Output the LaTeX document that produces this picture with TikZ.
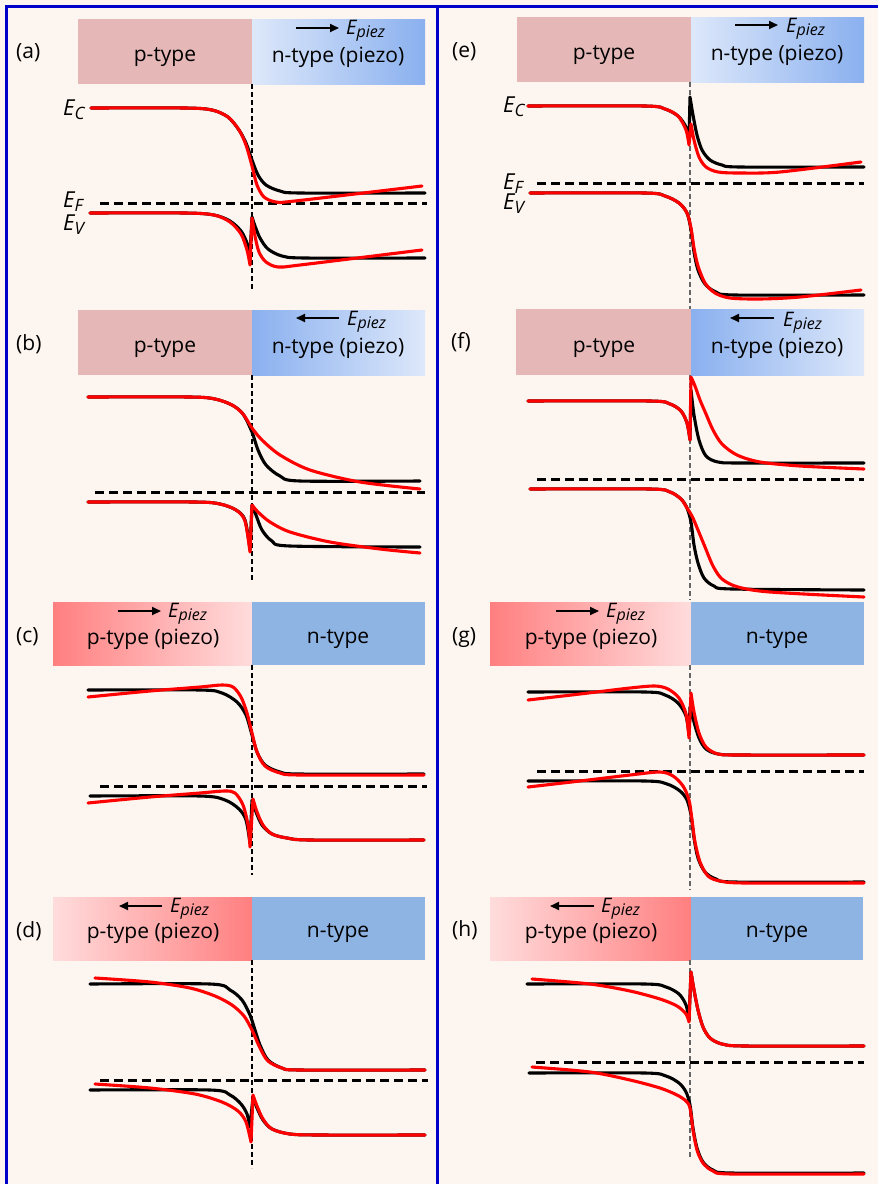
\documentclass[tikz,border=0pt]{standalone}
\usepackage{fontspec}
\setmainfont{Open Sans}
\usetikzlibrary{arrows.meta}
\definecolor{bg}{HTML}{FDF5EF}
\definecolor{pbox}{HTML}{E5B8B7}
\definecolor{nbox}{HTML}{8EB4E3}
\definecolor{bluelt}{HTML}{DDE8FA}
\definecolor{bluedk}{HTML}{8AB0EF}
\definecolor{redlt}{HTML}{FFDCDC}
\definecolor{reddk}{HTML}{FF7F80}
\definecolor{framec}{HTML}{0000CC}
\definecolor{bandred}{HTML}{FF0000}
\definecolor{jgrey}{HTML}{666666}
\newcommand{\Epz}{{\fontsize{20}{20}\selectfont\itshape E}\raisebox{-3pt}{\fontsize{16}{16}\selectfont\itshape piez}}
\newcommand{\Eband}[1]{{\fontsize{22}{22}\selectfont\itshape E}\raisebox{-4pt}{\fontsize{17}{17}\selectfont\itshape #1}}
\begin{document}
\begin{tikzpicture}[x=1pt,y=-1pt,
  blk/.style={line width=3.1pt,black,line join=round,line cap=round},
  rd/.style={line width=3.1pt,bandred,line join=round,line cap=round},
  fermi/.style={line width=3pt,black,dash pattern=on 9pt off 5pt},
  junc/.style={line width=1.6pt,black,dash pattern=on 5pt off 3pt},
  juncg/.style={line width=1.6pt,jgrey,dash pattern=on 5pt off 3pt},
  boxtxt/.style={anchor=base,inner sep=0pt,font=\fontsize{21}{22}\selectfont},
  lbl/.style={anchor=base west,inner sep=0pt,font=\fontsize{21}{22}\selectfont},
  etxt/.style={anchor=base west,inner sep=0pt},
  arr/.style={line width=2pt,-{Triangle[length=9pt,width=8pt]}},
  framel/.style={line width=3pt,framec}]
\useasboundingbox (0,0) rectangle (878,1184);
\fill[bg] (0,0) rectangle (878,1184);
% ---------- frame
\draw[framel] (6.5,1184) -- (6.5,6) -- (878,6);
\draw[framel] (437,6) -- (437,1184);

% ================= (a)
\fill[pbox] (78,19) rectangle (252,84);
\shade[left color=bluelt,right color=bluedk] (252,19) rectangle (425,84);
\node[lbl] (la) at (16,58) {(a)};
\node[boxtxt] (ap) at (165,61) {p-type};
\node[boxtxt] (an) at (338,62) {n-type (piezo)};
\coordinate (aa1) at (296,28); \coordinate (aa2) at (339,28);
\draw[arr] (aa1) -- (aa2);
\node[etxt] (ae) at (346,34) {\Epz};
\draw[junc] (252,84) -- (252,290);
\draw[fermi] (100,203) -- (427,203);
\draw[blk] plot[smooth] coordinates {(91,108) (185,108) (212,110) (228,117) (239,130) (246,143) (252,160) (258,175) (266,185) (280,191) (300,193) (425,193)};
\draw[blk] plot[smooth] coordinates {(90,213) (185,213) (214,215) (230,221) (241,231) (247,243) (250,255)} -- plot[smooth] coordinates {(252,217) (255,226) (260,238) (268,249) (282,256) (305,258) (425,258)};
\draw[rd] plot[smooth] coordinates {(91,108) (185,108) (212,110) (228,117) (239,130) (246,145) (252,166) (257,185) (264,197) (276,202) (295,201) (422,186)};
\draw[rd] plot[smooth] coordinates {(90,213) (185,213) (214,215) (230,222) (241,234) (247,250) (250,265)} -- plot[smooth] coordinates {(252,218) (255,236) (259,252) (266,262) (278,267) (300,265) (422,250)};
\node[etxt] (aec) at (63,115) {\Eband{C}};
\node[etxt] (aef) at (63,207) {\Eband{F}};
\node[etxt] (aev) at (63,230) {\Eband{V}};

% ================= (b)
\fill[pbox] (78,310) rectangle (252,375);
\shade[left color=bluedk,right color=bluelt] (252,310) rectangle (425,375);
\node[lbl] (lb) at (16,350) {(b)};
\node[boxtxt] (bp) at (165,352) {p-type};
\node[boxtxt] (bn) at (338,353) {n-type (piezo)};
\coordinate (ba1) at (339,318); \coordinate (ba2) at (296,318);
\draw[arr] (ba1) -- (ba2);
\node[etxt] (be) at (347,325) {\Epz};
\draw[junc] (252,375) -- (252,582);
\draw[fermi] (95,492) -- (425,492);
\draw[blk] plot[smooth] coordinates {(88,397) (190,397) (215,399) (232,405) (243,414) (252,432) (258,450) (266,465) (280,476) (300,481) (420,481)};
\draw[blk] plot[smooth] coordinates {(88,502) (195,502) (220,504) (236,510) (245,520) (250,550)} -- plot[smooth] coordinates {(252,505) (256,515) (262,530) (272,541) (290,546) (420,547)};
\draw[rd] plot[smooth] coordinates {(88,397) (190,397) (215,399) (232,405) (243,414) (252,428) (262,440) (280,455) (310,470) (360,482) (420,489)};
\draw[rd] plot[smooth] coordinates {(88,502) (195,502) (220,504) (236,510) (245,521) (250,552)} -- plot[smooth] coordinates {(252,505) (258,512) (270,522) (290,532) (330,542) (380,549) (420,553)};

% ================= (c)
\shade[left color=reddk,right color=redlt] (53,602) rectangle (252,665);
\fill[nbox] (252,602) rectangle (425,665);
\node[lbl] (lc) at (16,642) {(c)};
\node[boxtxt] (cp) at (153,644) {p-type (piezo)};
\node[boxtxt] (cn) at (338,643) {n-type};
\coordinate (ca1) at (118,611); \coordinate (ca2) at (161,611);
\draw[arr] (ca1) -- (ca2);
\node[etxt] (ce) at (168,617) {\Epz};
\draw[junc] (252,665) -- (252,875);
\draw[fermi] (100,786) -- (427,786);
\draw[blk] plot[smooth] coordinates {(88,690) (200,690) (222,693) (237,702) (246,715) (252,735) (257,752) (265,765) (280,772) (300,774) (424,774)};
\draw[blk] plot[smooth] coordinates {(90,796) (200,796) (225,800) (239,809) (246,820) (250,843)} -- plot[smooth] coordinates {(252,800) (256,812) (262,825) (272,834) (287,838) (310,840) (424,840)};
\draw[rd] plot[smooth] coordinates {(88,697) (150,691) (200,687) (222,685) (233,687) (241,697) (247,713) (252,733) (257,752) (265,766) (280,773) (300,775) (424,775)};
\draw[rd] plot[smooth] coordinates {(88,803) (150,797) (200,793) (225,791) (235,793) (243,805) (248,825) (250,847)} -- plot[smooth] coordinates {(253,799) (257,812) (263,825) (272,834) (287,838) (310,840) (424,840)};

% ================= (d)
\shade[left color=redlt,right color=reddk] (53,897) rectangle (252,960);
\fill[nbox] (252,897) rectangle (425,960);
\node[lbl] (ld) at (16,937) {(d)};
\node[boxtxt] (dp) at (153,938) {p-type (piezo)};
\node[boxtxt] (dn) at (338,937) {n-type};
\coordinate (da1) at (162,906); \coordinate (da2) at (119,906);
\draw[arr] (da1) -- (da2);
\node[etxt] (de) at (170,912) {\Epz};
\draw[junc] (252,960) -- (252,1168);
\draw[fermi] (100,1080) -- (428,1080);
\draw[blk] plot[smooth] coordinates {(90,984) (210,984) (230,990) (242,1000) (250,1015) (255,1030) (260,1045) (268,1060) (282,1068) (300,1070) (425,1070)};
\draw[blk] plot[smooth] coordinates {(90,1090) (210,1090) (230,1095) (241,1104) (247,1114) (250,1127)} -- plot[smooth] coordinates {(253,1097) (257,1108) (263,1120) (272,1129) (290,1134) (320,1135) (425,1135)};
\draw[rd] plot[smooth] coordinates {(95,978) (150,982) (190,988) (215,996) (232,1005) (244,1016) (252,1030) (260,1048) (268,1061) (282,1068) (300,1070) (425,1070)};
\draw[rd] plot[smooth] coordinates {(95,1084) (150,1088) (195,1094) (222,1102) (238,1111) (246,1122) (251,1142)} -- plot[smooth] coordinates {(253,1095) (257,1106) (263,1119) (272,1129) (290,1134) (320,1135) (425,1135)};

% ================= (e)
\fill[pbox] (517,17) rectangle (691,82);
\shade[left color=bluelt,right color=bluedk] (691,17) rectangle (864,82);
\node[lbl] (le) at (452,57) {(e)};
\node[boxtxt] (ep) at (604,59) {p-type};
\node[boxtxt] (en) at (777,60) {n-type (piezo)};
\coordinate (ea1) at (735,25); \coordinate (ea2) at (778,25);
\draw[arr] (ea1) -- (ea2);
\node[etxt] (ee) at (786,32) {\Epz};
\draw[juncg] (690,82) -- (690,310);
\draw[fermi] (537,183) -- (864,183);
\draw[blk] plot[smooth] coordinates {(528,106) (645,106) (665,109) (678,116) (686,127) (689,140)} -- plot[smooth] coordinates {(690,97) (693,115) (697,135) (702,150) (710,160) (722,165) (740,167) (864,167)};
\draw[blk] plot[smooth] coordinates {(530,193) (645,193) (665,196) (679,203) (687,213) (691,230) (694,252) (698,270) (705,284) (716,292) (735,295) (864,295)};
\draw[rd] plot[smooth] coordinates {(528,106) (645,106) (665,109) (678,116) (686,130) (689,145)} -- plot[smooth] coordinates {(691,124) (694,140) (699,157) (706,167) (718,172) (740,173) (780,172) (861,162)};
\draw[rd] plot[smooth] coordinates {(530,193) (645,193) (665,196) (679,203) (687,213) (691,228) (694,248) (698,266) (705,283) (715,293) (730,298) (760,299) (800,297) (861,290)};
\node[etxt] (eec) at (503,112) {\Eband{C}};
\node[etxt] (eef) at (503,189) {\Eband{F}};
\node[etxt] (eev) at (503,209) {\Eband{V}};

% ================= (f)
\fill[pbox] (516,309) rectangle (691,375);
\shade[left color=bluedk,right color=bluelt] (691,309) rectangle (864,375);
\node[lbl] (lf) at (451,348) {(f)};
\node[boxtxt] (fp) at (604,352) {p-type};
\node[boxtxt] (fn) at (777,353) {n-type (piezo)};
\coordinate (fa1) at (774,318); \coordinate (fa2) at (730,318);
\draw[arr] (fa1) -- (fa2);
\node[etxt] (fe) at (783,326) {\Epz};
\draw[juncg] (690,375) -- (690,600);
\draw[fermi] (537,479) -- (864,479);
\draw[blk] plot[smooth] coordinates {(528,401) (650,401) (670,404) (681,411) (687,423) (690,440)} -- plot[smooth] coordinates {(691,390) (694,415) (699,440) (706,456) (718,462) (740,463) (864,463)};
\draw[blk] plot[smooth] coordinates {(530,489) (650,489) (670,492) (681,499) (687,508) (691,522) (694,545) (698,563) (704,578) (714,586) (732,589) (864,590)};
\draw[rd] plot[smooth] coordinates {(528,401) (650,401) (670,404) (681,411) (687,423) (690,440)} -- plot[smooth] coordinates {(691,377) (695,386) (700,400) (706,414) (713,430) (722,444) (737,455) (760,462) (800,466) (864,469)};
\draw[rd] plot[smooth] coordinates {(530,489) (650,489) (670,492) (681,499) (687,508) (692,516) (698,530) (705,547) (713,566) (722,579) (738,587) (770,592) (864,597)};

% ================= (g)
\shade[left color=reddk,right color=redlt] (490,602) rectangle (691,665);
\fill[nbox] (691,602) rectangle (864,665);
\node[lbl] (lg) at (452,642) {(g)};
\node[boxtxt] (gp) at (591,644) {p-type (piezo)};
\node[boxtxt] (gn) at (777,643) {n-type};
\coordinate (ga1) at (556,611); \coordinate (ga2) at (599,611);
\draw[arr] (ga1) -- (ga2);
\node[etxt] (ge) at (606,617) {\Epz};
\draw[juncg] (690,665) -- (690,890);
\draw[fermi] (537,771) -- (864,771);
\draw[blk] plot[smooth] coordinates {(528,692) (645,692) (665,695) (678,703) (686,716) (689,735)} -- plot[smooth] coordinates {(690,707) (694,722) (699,738) (706,749) (718,754) (740,755) (864,755)};
\draw[blk] plot[smooth] coordinates {(528,781) (645,781) (667,784) (680,791) (687,800) (691,815) (694,838) (698,858) (705,872) (716,879) (735,882) (864,882)};
\draw[rd] plot[smooth] coordinates {(528,700) (580,694) (630,688) (655,686) (668,689) (679,698) (686,714) (689,738)} -- plot[smooth] coordinates {(691,693) (694,712) (699,733) (706,747) (718,754) (740,755) (864,755)};
\draw[rd] plot[smooth] coordinates {(528,787) (580,781) (630,775) (660,772) (673,776) (683,786) (689,800) (692,820) (695,842) (700,862) (708,876) (720,881) (745,883) (864,883)};

% ================= (h)
\shade[left color=redlt,right color=reddk] (490,897) rectangle (691,960);
\fill[nbox] (691,897) rectangle (863,960);
\node[lbl] (lh) at (452,936) {(h)};
\node[boxtxt] (hp) at (591,938) {p-type (piezo)};
\node[boxtxt] (hn) at (777,937) {n-type};
\coordinate (ha1) at (594,906); \coordinate (ha2) at (550,906);
\draw[arr] (ha1) -- (ha2);
\node[etxt] (he) at (601,912) {\Epz};
\draw[juncg] (690,960) -- (690,1157);
\draw[fermi] (536,1062) -- (864,1062);
\draw[blk] plot[smooth] coordinates {(527,984) (645,984) (666,987) (679,994) (686,1005) (689,1020)} -- plot[smooth] coordinates {(691,972) (694,990) (698,1010) (703,1027) (710,1038) (722,1044) (745,1046) (864,1046)};
\draw[blk] plot[smooth] coordinates {(529,1073) (645,1073) (666,1076) (679,1083) (686,1092) (690,1105) (693,1128) (697,1148) (703,1162) (713,1170) (732,1173) (864,1173)};
\draw[rd] plot[smooth] coordinates {(532,979) (590,984) (630,991) (660,999) (677,1006) (686,1014) (689,1022)} -- plot[smooth] coordinates {(691,972) (694,990) (698,1010) (703,1027) (710,1038) (722,1044) (745,1046) (864,1046)};
\draw[rd] plot[smooth] coordinates {(532,1067) (590,1072) (630,1080) (660,1088) (677,1095) (686,1101) (690,1108) (693,1130) (697,1150) (703,1163) (713,1171) (732,1174) (864,1174)};
\end{tikzpicture}
\end{document}
